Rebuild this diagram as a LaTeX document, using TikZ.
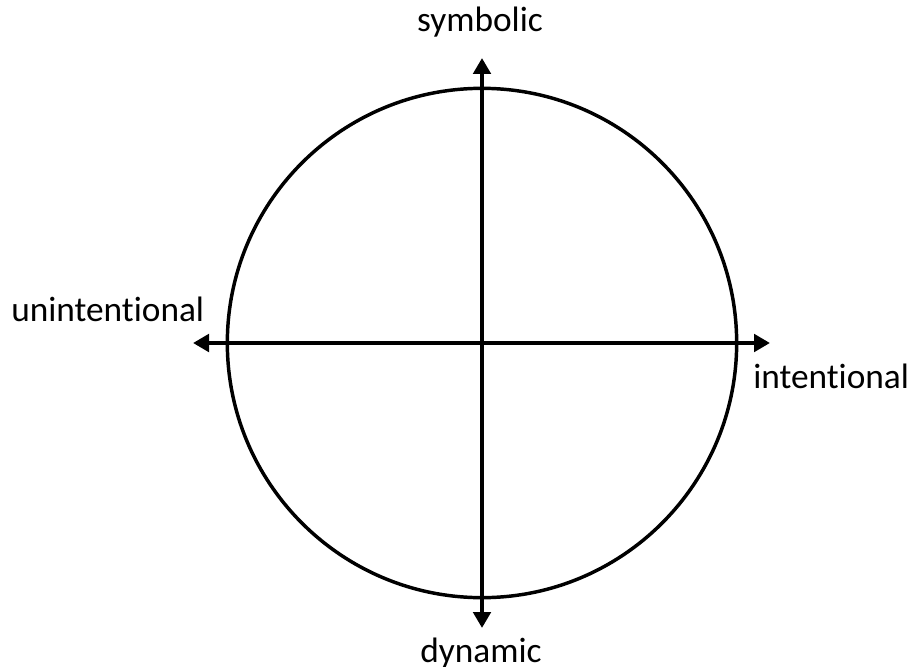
\documentclass[tikz,border=0pt]{standalone}
\usepackage{fontspec}
\setmainfont[Ligatures=NoCommon]{Carlito}
\usepackage{tikz}
\usetikzlibrary{arrows.meta, positioning}
\tikzstyle{axis} = [line width=3pt, -{Triangle[length=12pt, width=13pt]}]
\tikzstyle{lbl} = [inner sep=0pt, font=\fontsize{26.5}{30}\selectfont]

\begin{document}
\begin{tikzpicture}[x=0.75pt, y=-0.75pt]
    \useasboundingbox (0,0) rectangle (911,667);
    \node[circle, draw, line width=2.6pt, minimum size=382pt, inner sep=0pt] (wheel) at (482,343) {};
    \coordinate (top) at (482,58);
    \coordinate (bot) at (482,628);
    \coordinate (lft) at (193,343);
    \coordinate (rgt) at (770,343);
    \draw[axis] (wheel.center) -- (top);
    \draw[axis] (wheel.center) -- (bot);
    \draw[axis] (wheel.center) -- (lft);
    \draw[axis] (wheel.center) -- (rgt);
    \node[lbl, anchor=base] (sym) at (480,32) {symbolic};
    \node[lbl, anchor=base] (dyn) at (481,662) {dynamic};
    \node[lbl, anchor=base west] (unint) at (11,321) {unintentional};
    \node[lbl, anchor=base west] (int) at (753,388) {intentional};
  \end{tikzpicture}
\end{document}
